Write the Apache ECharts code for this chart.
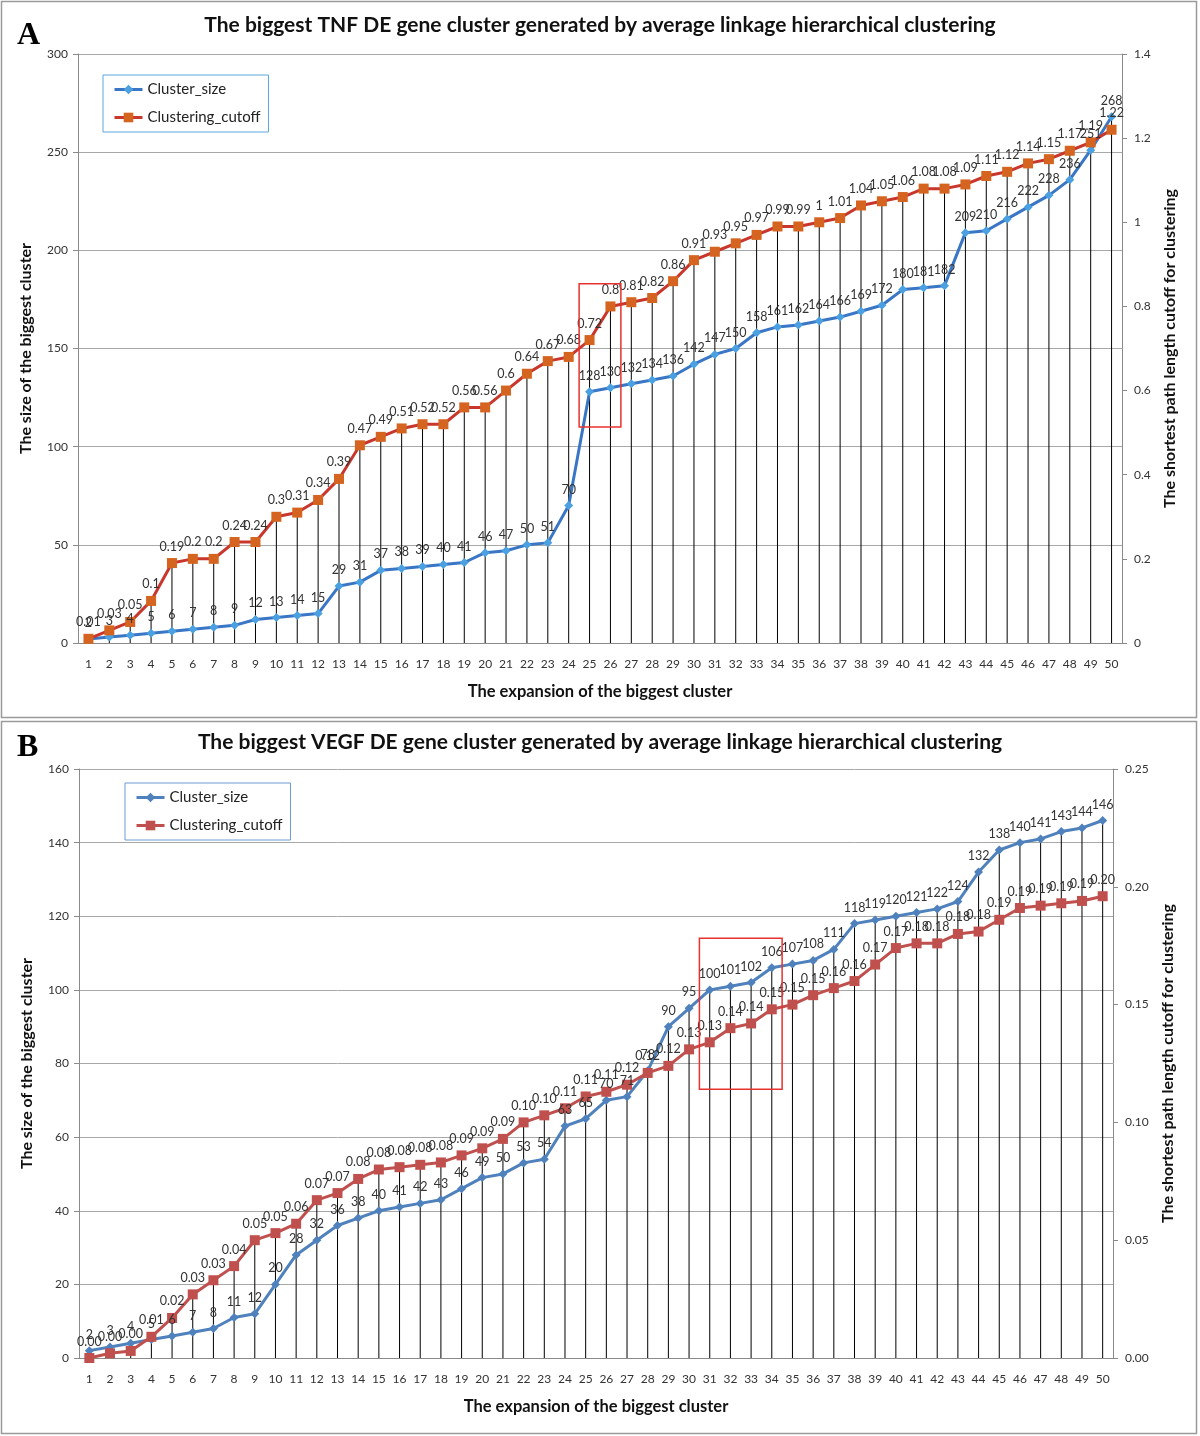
<!DOCTYPE html>
<html><head><meta charset="utf-8">
<script src="https://cdn.jsdelivr.net/npm/echarts@6/dist/echarts.min.js"></script>
<style>html,body{margin:0;padding:0;background:#fff}#c{width:1200px;height:1436px}</style>
</head><body><div id="c"></div>
<script>
// ---------- data ----------
const categories = ['1','2','3','4','5','6','7','8','9','10','11','12','13','14','15','16','17','18','19','20','21','22','23','24','25','26','27','28','29','30','31','32','33','34','35','36','37','38','39','40','41','42','43','44','45','46','47','48','49','50'];

const tnfClusterSize = [2,3,4,5,6,7,8,9,12,13,14,15,29,31,37,38,39,40,41,46,47,50,51,70,128,130,132,134,136,142,147,150,158,161,162,164,166,169,172,180,181,182,209,210,216,222,228,236,251,268];
const tnfCutoff = [0.01,0.03,0.05,0.1,0.19,0.2,0.2,0.24,0.24,0.3,0.31,0.34,0.39,0.47,0.49,0.51,0.52,0.52,0.56,0.56,0.6,0.64,0.67,0.68,0.72,0.8,0.81,0.82,0.86,0.91,0.93,0.95,0.97,0.99,0.99,1,1.01,1.04,1.05,1.06,1.08,1.08,1.09,1.11,1.12,1.14,1.15,1.17,1.19,1.22];

const vegfClusterSize = [2,3,4,5,6,7,8,11,12,20,28,32,36,38,40,41,42,43,46,49,50,53,54,63,65,70,71,78,90,95,100,101,102,106,107,108,111,118,119,120,121,122,124,132,138,140,141,143,144,146];
const vegfCutoff = [0.000,0.002,0.003,0.009,0.017,0.027,0.033,0.039,0.050,0.053,0.057,0.067,0.070,0.076,0.080,0.081,0.082,0.083,0.086,0.089,0.093,0.100,0.103,0.106,0.111,0.113,0.116,0.121,0.124,0.131,0.134,0.140,0.142,0.148,0.150,0.154,0.157,0.160,0.167,0.174,0.176,0.176,0.180,0.181,0.186,0.191,0.192,0.193,0.194,0.196];

// axis scales [min, max, interval]
const tnfSizeAxis = [0, 300, 50];
const tnfCutoffAxis = [0, 1.4, 0.2];
const vegfSizeAxis = [0, 160, 20];
const vegfCutoffAxis = [0, 0.25, 0.05];

// highlighted ranges [firstCategory, lastCategory, lowSize, highSize]
const tnfHighlight = ['25', '26', 110, 183];
const vegfHighlight = ['31', '34', 73, 114];

const titles = [
  'The biggest TNF DE gene cluster generated by average linkage hierarchical clustering',
  'The biggest VEGF DE gene cluster generated by average linkage hierarchical clustering'
];
const xName = 'The expansion of the biggest cluster';
const yLeftName = 'The size of the biggest cluster';
const yRightName = 'The shortest path length cutoff for clustering';
const seriesNames = ['Cluster_size', 'Clustering_cutoff'];

// ---------- chart ----------
const FONT = 'Lato, "Open Sans", sans-serif';
const chart = echarts.init(document.getElementById('c'), null, {renderer: 'canvas'});

function dropLines(size, cut, sAxis, cAxis) {
  const r = sAxis[1] / cAxis[1];
  return size.map((v, i) => Math.max(v, cut[i] * r));
}

function xAxisCfg(grid) {
  return {
    type: 'category', gridIndex: grid, data: categories, boundaryGap: true,
    axisLine: {lineStyle: {color: '#8a8a8a', width: 1}},
    axisTick: {show: false},
    axisLabel: {color: '#333', fontSize: 12, fontFamily: FONT, margin: 15},
    name: xName, nameLocation: 'middle', nameGap: 40,
    nameTextStyle: {fontSize: 16.5, fontWeight: 'bold', color: '#111', fontFamily: FONT}
  };
}
function yAxisCfg(grid, ax, pos, name, fmt) {
  const left = pos === 'left';
  return {
    type: 'value', gridIndex: grid, position: pos,
    min: ax[0], max: ax[1], interval: ax[2],
    axisLine: {show: true, lineStyle: {color: '#8a8a8a'}},
    axisTick: {show: true, length: 5, lineStyle: {color: '#8a8a8a'}},
    splitLine: {show: left, lineStyle: {color: '#a8a8a8', width: 1}},
    axisLabel: {color: '#333', fontSize: 12, fontFamily: FONT, margin: left ? 10 : 12, formatter: fmt},
    name: name, nameLocation: 'middle', nameRotate: 90, nameGap: left ? 44 : 40,
    nameTextStyle: {fontSize: 16, fontWeight: 'bold', color: '#111', fontFamily: FONT}
  };
}
function lineSeries(name, data, xi, yi, lineColor, markColor, symbol, size, fmt) {
  return {
    type: 'line', name: name, data: data, xAxisIndex: xi, yAxisIndex: yi,
    symbol: symbol, symbolSize: size, showAllSymbol: true, z: 4,
    lineStyle: {color: lineColor, width: 3},
    itemStyle: {color: markColor},
    label: {show: true, position: 'top', distance: 5, color: '#333', fontSize: 12.5, fontFamily: FONT, formatter: fmt},
    emphasis: {disabled: true}, animation: false
  };
}
function dropSeries(data, xi, yi) {
  return {
    type: 'bar', data: data, xAxisIndex: xi, yAxisIndex: yi, barWidth: 1,
    itemStyle: {color: '#000'}, silent: true, z: 1, animation: false
  };
}
function legendCfg(left, top, c1, m1, c2, m2, border) {
  return {
    orient: 'vertical', left: left, top: top, itemWidth: 28, itemHeight: 12, itemGap: 13,
    padding: [7, 8, 7, 10], borderColor: border, borderWidth: 1, backgroundColor: '#fff',
    textStyle: {fontSize: 15, color: '#222', fontFamily: FONT},
    selectedMode: false,
    data: [
      {name: seriesNames[0], lineStyle: {color: c1, width: 3}, itemStyle: {color: m1}},
      {name: seriesNames[1], lineStyle: {color: c2, width: 3}, itemStyle: {color: m2}}
    ]
  };
}

const rawFmt = p => String(p.value);
const fix2 = p => Number(p.value).toFixed(2);

const option = {
  backgroundColor: '#fff',
  animation: false,
  title: [
    {text: titles[0], left: 'center', top: 10, textStyle: {fontSize: 21, fontWeight: 'bold', color: '#111', fontFamily: FONT}},
    {text: titles[1], left: 'center', top: 727, textStyle: {fontSize: 21, fontWeight: 'bold', color: '#111', fontFamily: FONT}}
  ],
  legend: [
    legendCfg(103, 75, '#3a76c6', '#4aa0e0', '#c9372c', '#d4641f', '#5aa6dc'),
    legendCfg(125, 783, '#4f81bd', '#4f81bd', '#c0504d', '#c0504d', '#6f9bd0')
  ],
  grid: [
    {left: 78, top: 54, width: 1044, height: 589},
    {left: 79, top: 769, width: 1034, height: 589}
  ],
  xAxis: [xAxisCfg(0), xAxisCfg(1)],
  yAxis: [
    yAxisCfg(0, tnfSizeAxis, 'left', yLeftName),
    yAxisCfg(0, tnfCutoffAxis, 'right', yRightName),
    yAxisCfg(1, vegfSizeAxis, 'left', yLeftName),
    yAxisCfg(1, vegfCutoffAxis, 'right', yRightName, v => v.toFixed(2))
  ],
  series: [
    dropSeries(dropLines(tnfClusterSize, tnfCutoff, tnfSizeAxis, tnfCutoffAxis), 0, 0),
    lineSeries(seriesNames[0], tnfClusterSize, 0, 0, '#3a76c6', '#4aa0e0', 'diamond', 9, rawFmt),
    lineSeries(seriesNames[1], tnfCutoff, 0, 1, '#c9372c', '#d4641f', 'rect', 10, rawFmt),
    dropSeries(dropLines(vegfClusterSize, vegfCutoff, vegfSizeAxis, vegfCutoffAxis), 1, 2),
    lineSeries(seriesNames[0], vegfClusterSize, 1, 2, '#4f81bd', '#4f81bd', 'diamond', 9, rawFmt),
    lineSeries(seriesNames[1], vegfCutoff, 1, 3, '#c0504d', '#c0504d', 'rect', 10, fix2)
  ],
  graphic: [
    {id: 'frameA', type: 'rect', shape: {x: 1.5, y: 1.5, width: 1195, height: 716}, style: {fill: null, stroke: '#9a9a9a', lineWidth: 1.5}, silent: true},
    {id: 'frameB', type: 'rect', shape: {x: 1.5, y: 721.5, width: 1195, height: 712}, style: {fill: null, stroke: '#9a9a9a', lineWidth: 1.5}, silent: true},
    {id: 'letA', type: 'text', left: 17, top: 20, style: {text: 'A', font: 'bold 32px "Liberation Serif", "DejaVu Serif", serif', fill: '#000'}},
    {id: 'letB', type: 'text', left: 17, top: 732, style: {text: 'B', font: 'bold 32px "Liberation Serif", "DejaVu Serif", serif', fill: '#000'}}
  ]
};
chart.setOption(option);

function highlightRect(id, grid, hl) {
  const a = chart.convertToPixel({gridIndex: grid}, [hl[0], hl[3]]);
  const b = chart.convertToPixel({gridIndex: grid}, [hl[1], hl[2]]);
  const next = chart.convertToPixel({gridIndex: grid}, [categories[categories.indexOf(hl[0]) + 1], 0]);
  const half = (next[0] - a[0]) / 2;
  return {id: id, type: 'rect', z: 10, silent: true,
    shape: {x: a[0] - half, y: a[1], width: (b[0] + half) - (a[0] - half), height: b[1] - a[1]},
    style: {fill: null, stroke: '#e8322f', lineWidth: 1.5}};
}
chart.setOption({graphic: [highlightRect('hlA', 0, tnfHighlight), highlightRect('hlB', 1, vegfHighlight)]});
</script>
</body></html>
